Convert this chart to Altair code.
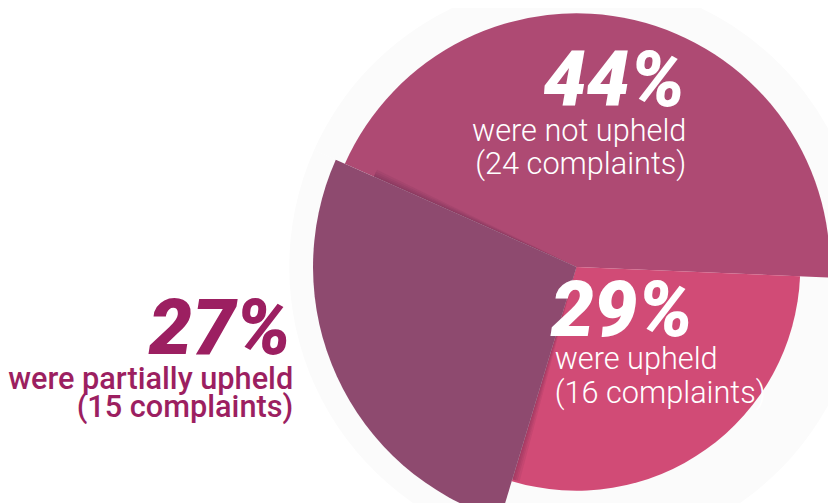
import math
import altair as alt
import pandas as pd

# ---- data ----
categories = ["were not upheld", "were upheld", "were partially upheld"]
percents = [44, 29, 27]
complaints = [24, 16, 15]
order = [0, 1, 2]

df = pd.DataFrame({
    "category": categories,
    "pct": percents,
    "complaints": complaints,
    "order": order,
})

START = math.radians(-66)
theta_scale = alt.Scale(domain=[0, 1], range=[START, START + 2 * math.pi])

CX, CY = 574, 259  # pie centre inside the plot area

base = (
    alt.Chart(df)
    .transform_joinaggregate(total="sum(pct)")
    .transform_window(cum="sum(pct)", sort=[alt.SortField("order")])
    .transform_calculate(
        start="(datum.cum - datum.pct) / datum.total",
        end="datum.cum / datum.total",
        big="datum.pct + '%'",
        line2="'(' + datum.complaints + ' complaints)'",
    )
)

def arc_layer(cat, radius, color, **kw):
    src = base if cat is None else base.transform_filter(alt.datum.category == cat)
    return (
        src.mark_arc(radius=radius, color=color, **kw)
        .encode(
            theta=alt.Theta("start:Q", scale=theta_scale),
            theta2="end:Q",
            x=alt.value(CX),
            y=alt.value(CY),
        )
    )

halo = arc_layer(None, 290, "#fbfbfb")
top = arc_layer("were not upheld", 256, "#ae4a73")
pink = arc_layer("were upheld", 226, "#d14b76")
# soft shadow cast by the raised slice: a few faint, slightly wider copies
shadows = [
    arc_layer("were partially upheld", 224, "#4a2140", opacity=0.09,
              thetaOffset=-d, theta2Offset=d)
    for d in (0.008, 0.016, 0.024, 0.034)
]
left = arc_layer("were partially upheld", 266, "#8e4a6f")

def text_layer(cat, field, x, y, align, size, weight, color, style="normal"):
    return (
        base.transform_filter(alt.datum.category == cat)
        .mark_text(align=align, baseline="alphabetic", font="Roboto", fontSize=size,
                   fontWeight=weight, fontStyle=style, color=color)
        .encode(text=alt.Text(f"{field}:N"), x=alt.value(x), y=alt.value(y))
    )

texts = [
    text_layer("were not upheld", "big", 684, 97, "right", 78, 900, "white", "italic"),
    text_layer("were not upheld", "category", 685, 132, "right", 31, 300, "white"),
    text_layer("were not upheld", "line2", 685, 165, "right", 31, 300, "white"),
    text_layer("were upheld", "big", 548, 329, "left", 78, 900, "white", "italic"),
    text_layer("were upheld", "category", 552, 362, "left", 31, 300, "white"),
    text_layer("were upheld", "line2", 552, 396, "left", 31, 300, "white"),
    text_layer("were partially upheld", "big", 286, 347, "right", 78, 900, "#9c1f61", "italic"),
    text_layer("were partially upheld", "category", 288, 382, "right", 31, 500, "#9c1f61"),
    text_layer("were partially upheld", "line2", 288, 411, "right", 31, 500, "#9c1f61"),
]

chart = (
    alt.layer(halo, top, pink, *shadows, left, *texts)
    .properties(
        width=828, height=495, padding=0,
        autosize=alt.AutoSizeParams(type="none"),
        background="white",
    )
    .configure_view(stroke=None)
)

chart.save("out.html", embed_options={"renderer": "svg", "actions": False})
